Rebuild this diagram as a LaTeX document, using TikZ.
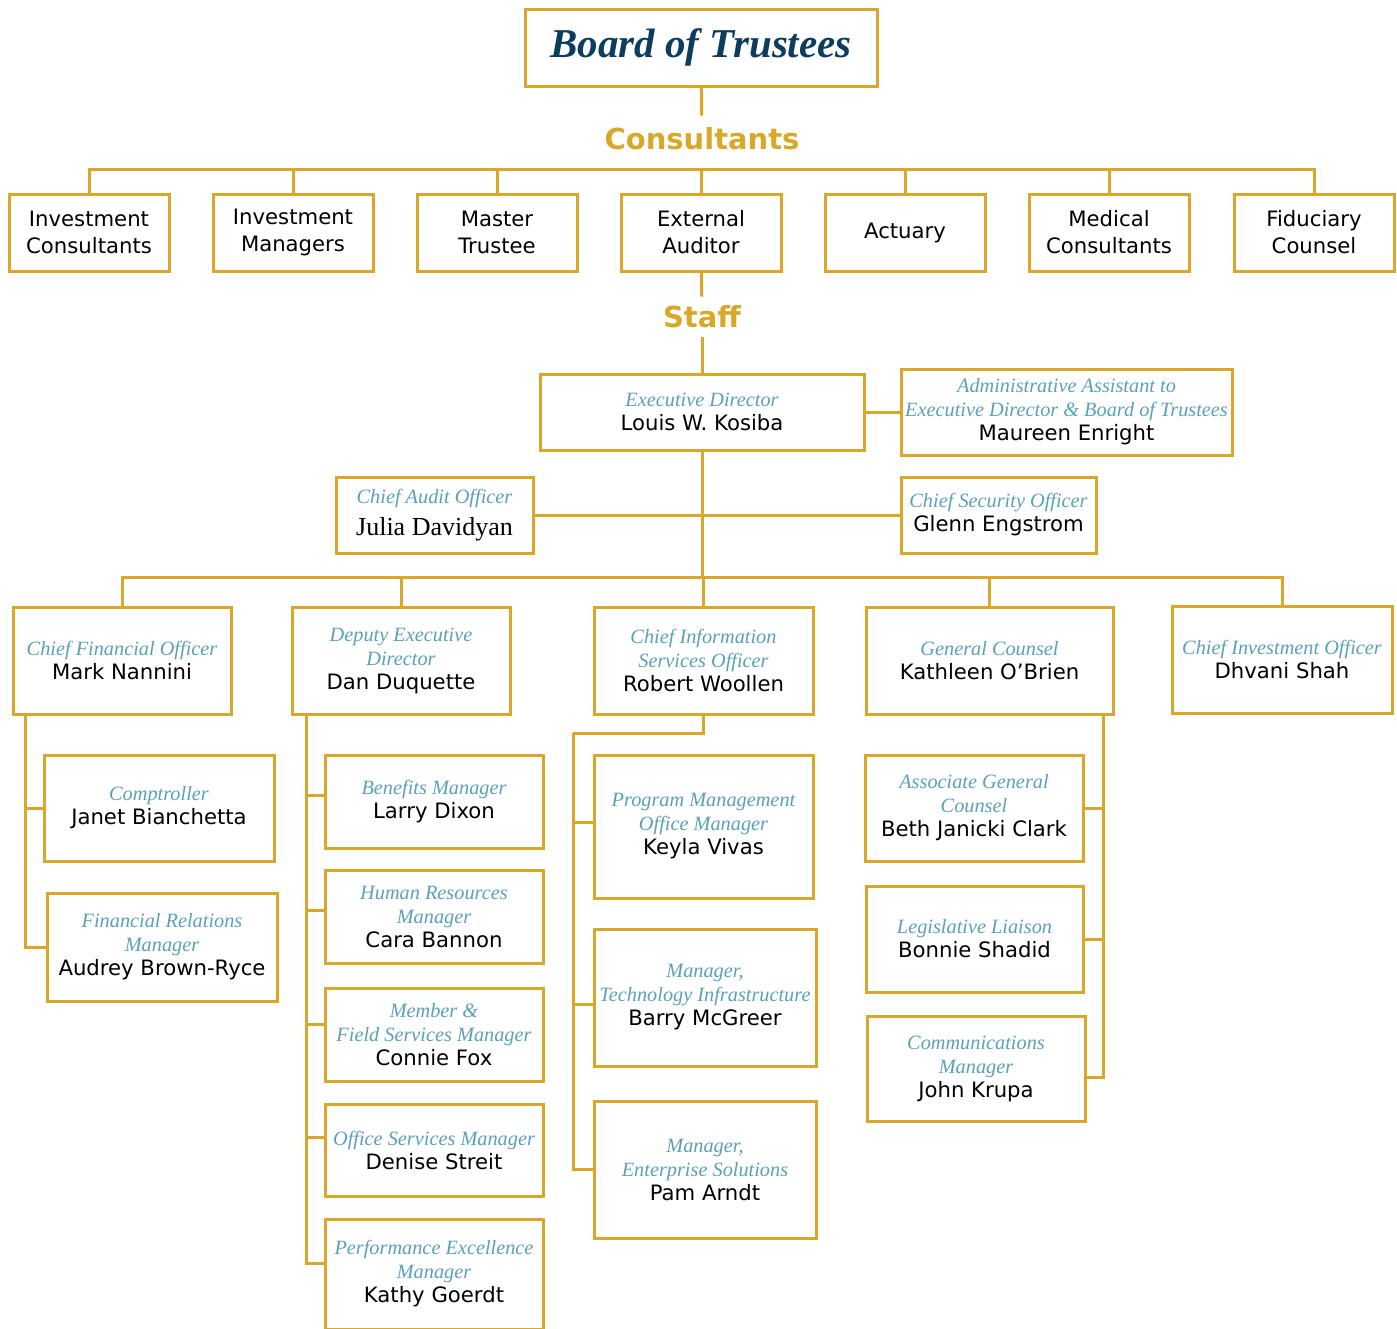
\documentclass[tikz,border=0pt]{standalone}
\usepackage{fontspec}
\setmainfont{DejaVu Sans}
\newfontfamily\titlefont{Liberation Serif}
\definecolor{gold}{RGB}{217,167,42}
\definecolor{ttlblue}{RGB}{90,160,186}
\definecolor{navy}{RGB}{12,60,94}
\newcommand{\ttl}[1]{{\titlefont\itshape\fontsize{20.3}{24}\selectfont\color{ttlblue}#1}}
\tikzset{
  box/.style 2 args={draw=gold, line width=3pt, align=center, inner sep=0pt,
    minimum width=#1pt, minimum height=#2pt, font=\fontsize{21.2}{24}\selectfont},
  cbox/.style={box={160}{77}, font=\fontsize{21.2}{27}\selectfont},
  grouplbl/.style={text=gold, inner xsep=2pt, font=\fontsize{29}{31}\selectfont\bfseries},
  link/.style={draw=gold, line width=3pt},
}
\begin{document}
\begin{tikzpicture}[x=1pt,y=-1pt]
\useasboundingbox (0,0) rectangle (1397,1328);
\node[box={352}{77}] (board) at (701,47.5) {\titlefont\fontsize{41}{43}\selectfont\bfseries\itshape\color{navy}Board of Trustees};
\node[grouplbl, inner ysep=12pt] (cons) at (702,139) {Consultants};
\node[cbox] (ic) at (89,232.5) {Investment\\Consultants};
\node[cbox] (im) at (293,232.5) {Investment\\Managers};
\node[cbox] (mt) at (497,232.5) {Master\\Trustee};
\node[cbox] (ea) at (701,232.5) {External\\Auditor};
\node[cbox] (ac) at (905,232.5) {Actuary};
\node[cbox] (mc) at (1109,232.5) {Medical\\Consultants};
\node[cbox] (fc) at (1314,232.5) {Fiduciary\\Counsel};
\node[grouplbl, inner ysep=9pt] (staff) at (702,317) {Staff};
\node[box={324}{76}] (ed) at (702,412) {\ttl{Executive Director}\\Louis W. Kosiba};
\node[box={331}{86}] (admin) at (1066.5,412) {\ttl{Administrative Assistant to}\\\ttl{Executive Director \& Board of Trustees}\\Maureen Enright};
\node[box={197}{76}] (audit) at (434.5,515) {\ttl{Chief Audit Officer}\\[8pt]{\titlefont\fontsize{26}{28}\selectfont Julia Davidyan}};
\node[box={195}{76}] (sec) at (998.5,515) {\ttl{Chief Security Officer}\\Glenn Engstrom};
\node[box={218}{107}] (cfo) at (122,660.5) {\ttl{Chief Financial Officer}\\Mark Nannini};
\node[box={218}{107}] (dep) at (401,660.5) {\ttl{Deputy Executive}\\\ttl{Director}\\Dan Duquette};
\node[box={219}{107}] (cio) at (703.5,660.5) {\ttl{Chief Information}\\\ttl{Services Officer}\\Robert Woollen};
\node[box={247}{107}] (gc) at (989.5,660.5) {\ttl{General Counsel}\\Kathleen O’Brien};
\node[box={220}{107}] (cinv) at (1282,659.5) {\ttl{Chief Investment Officer}\\Dhvani Shah};
\node[box={230}{106}] (comp) at (159,808) {\ttl{Comptroller}\\Janet Bianchetta};
\node[box={230}{108}] (finrel) at (162,947) {\ttl{Financial Relations}\\\ttl{Manager}\\Audrey Brown-Ryce};
\node[box={218}{93}] (ben) at (434,801.5) {\ttl{Benefits Manager}\\Larry Dixon};
\node[box={218}{93}] (hr) at (434,916.5) {\ttl{Human Resources}\\\ttl{Manager}\\Cara Bannon};
\node[box={218}{93}] (mem) at (434,1034.5) {\ttl{Member \&}\\\ttl{Field Services Manager}\\Connie Fox};
\node[box={218}{92}] (off) at (434,1150) {\ttl{Office Services Manager}\\Denise Streit};
\node[box={218}{110}] (perf) at (434,1274) {\ttl{Performance Excellence}\\\ttl{Manager}\\Kathy Goerdt};
\node[box={219}{143}] (pmo) at (703.5,826.5) {\ttl{Program Management}\\\ttl{Office Manager}\\Keyla Vivas};
\node[box={222}{137}] (tech) at (705,997.5) {\ttl{Manager,}\\\ttl{Technology Infrastructure}\\Barry McGreer};
\node[box={222}{137}] (ent) at (705,1169.5) {\ttl{Manager,}\\\ttl{Enterprise Solutions}\\Pam Arndt};
\node[box={218}{106}] (agc) at (974,808) {\ttl{Associate General}\\\ttl{Counsel}\\Beth Janicki Clark};
\node[box={217}{106}] (leg) at (974.5,939) {\ttl{Legislative Liaison}\\Bonnie Shadid};
\node[box={218}{105}] (comm) at (976,1068.5) {\ttl{Communications}\\\ttl{Manager}\\John Krupa};
\coordinate (cbus) at (701,169);
\coordinate (sbus) at (702,577);
\coordinate (cfosp) at (25,715);
\coordinate (depsp) at (306,715);
\coordinate (cioel) at (573,733);
\coordinate (gcsp) at (1103,715);
\draw[link] (board) -- (cons);
\foreach \n in {ic,im,mt,ea,ac,mc,fc}
  \draw[link] (\n.north) |- (cbus);
\draw[link] (ea) -- (staff);
\draw[link] (staff) -- (ed);
\draw[link] (ed) -- (admin);
\draw[link] (ed.south) -- (sbus);
\draw[link] (audit) -- (sec);
\foreach \n in {cfo,dep,cio,gc,cinv}
  \draw[link] (\n.north) |- (sbus);
\foreach \n in {comp,finrel}
  \draw[link] (cfosp) |- (\n.west);
\foreach \n/\s in {ben/6,hr/6,mem/10,off/13,perf/11}
  \draw[link] (depsp) |- ([yshift=\s pt]\n.west);
\draw[link] (cio.south) |- (cioel);
\foreach \n/\s in {pmo/4,tech/-7,ent/0}
  \draw[link] (cioel) |- ([yshift=\s pt]\n.west);
\foreach \n/\s in {agc/0,leg/0,comm/-9}
  \draw[link] (gcsp) |- ([yshift=\s pt]\n.east);
\end{tikzpicture}
\end{document}
